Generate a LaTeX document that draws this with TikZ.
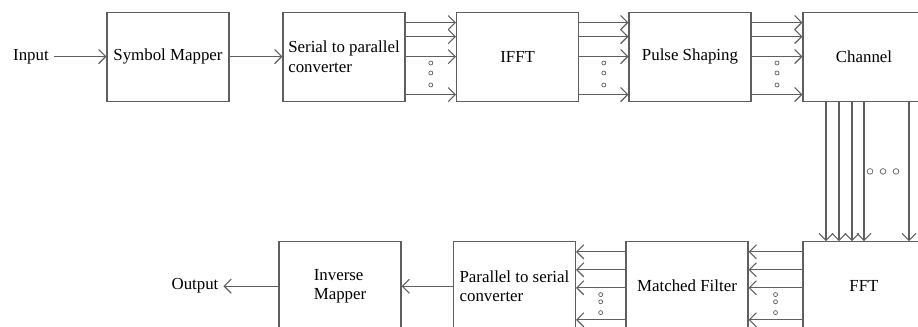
\documentclass[tikz,border=0pt]{standalone}
\usepackage{fontspec}
\setmainfont{Liberation Serif}
\usetikzlibrary{arrows.meta,calc}
\definecolor{ln}{RGB}{95,95,95}

\begin{document}
\begin{tikzpicture}[
    font=\fontsize{12}{14}\selectfont,
    blk/.style={draw=ln, line width=0.8pt, minimum width=3.05cm, minimum height=2.225cm, inner sep=0pt, align=left},
    sig/.style={draw=ln, line width=0.8pt, -{Straight Barb[length=5pt,width=10pt]}},
    dot/.style={draw=ln, line width=0.5pt}
]
    \useasboundingbox (0,0) rectangle (22.95,8.175);
    \clip (0,0) rectangle (22.95,8.175);

    % transmitter
    \node (in) at (0.775, 6.76) {Input};
    \node[blk] (sym) at (4.2, 6.76) {Symbol Mapper};
    \node[blk] (s2p) at (8.6, 6.76) {Serial to parallel\\converter};
    \node[blk] (ifft) at (12.94, 6.76) {IFFT};
    \node[blk] (pulse) at (17.25, 6.76) {Pulse Shaping};
    \node[blk] (chan) at (21.6, 6.76) {Channel};

    % receiver
    \node (out) at (4.875, 1.02) {Output};
    \node[blk] (inv) at (8.5, 1.02) {Inverse\\Mapper};
    \node[blk] (p2s) at (12.86, 1.02) {Parallel to serial\\converter};
    \node[blk] (mf) at (17.175, 1.02) {Matched Filter};
    \node[blk] (fft) at (21.6, 1.02) {FFT};

    \draw[sig] (in) -- (sym);
    \draw[sig] (sym) -- (s2p);
    \draw[sig] (p2s) -- (inv);
    \draw[sig] (inv) -- (out);

    \foreach \a/\b in {s2p/ifft, ifft/pulse, pulse/chan} {
        \foreach \d in {0.85, 0.5, 0, -0.95}
            \draw[sig] ([yshift=\d cm]\a.east) -- ([yshift=\d cm]\b.west);
        \foreach \d in {-0.16, -0.41, -0.71}
            \draw[dot] ($(\a.east)!0.5!(\b.west)+(0,\d)$) circle (0.05);
    }

    \foreach \a/\b in {fft/mf, mf/p2s} {
        \foreach \d in {0.86, 0.41, -0.04, -0.84}
            \draw[sig] ([yshift=\d cm]\a.west) -- ([yshift=\d cm]\b.east);
        \foreach \d in {-0.21, -0.39, -0.66}
            \draw[dot] ($(\a.west)!0.5!(\b.east)+(0,\d)$) circle (0.05);
    }

    \foreach \d in {-0.95, -0.625, -0.3, 0, 1.125}
        \draw[sig] ([xshift=\d cm]chan.south) -- ([xshift=\d cm]fft.north);
    \foreach \d in {0.15, 0.475, 0.8}
        \draw[dot] ($(chan.south)!0.5!(fft.north)+(\d,0)$) circle (0.07);
\end{tikzpicture}
\end{document}
